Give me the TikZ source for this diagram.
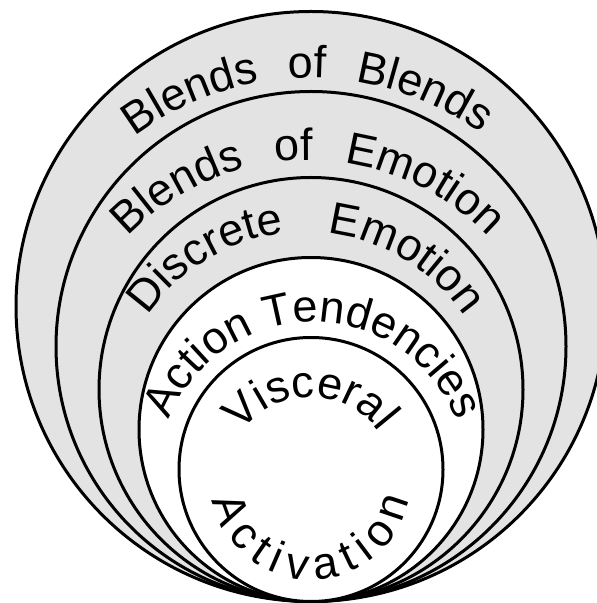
\documentclass[tikz,border=0pt]{standalone}
\usepackage{fontspec}
\setmainfont{Liberation Sans}
\usetikzlibrary{calc,decorations.text}
\definecolor{RingGray}{HTML}{E3E3E3}
\definecolor{RingInk}{HTML}{000000}
\newcommand{\ringfont}{\fontsize{45}{54}\selectfont}
\tikzset{
  ring/.style={draw=RingInk, line width=3pt, fill=RingGray},
  core/.style={draw=RingInk, line width=3pt, fill=white},
  ringtext/.style={decorate, decoration={text along path, text={|\ringfont|#1},
    text align={fit to path stretching spaces}}},
  coretext/.style={decorate, decoration={text along path, text={|\ringfont|#1},
    text align={fit to path}}},
  centertext/.style={decorate, decoration={text along path, text={|\ringfont|#1},
    text align={center}}},
}
\begin{document}
\begin{tikzpicture}[x=1pt,y=1pt]
  \useasboundingbox (0,0) rectangle (597,603);
  % Common touching point at the bottom
  \coordinate (tip) at (311,1.5);
  % Rings, outside in
  \draw[ring] ($(tip)+(0,295)$) circle[radius=295];
  \draw[ring] ($(tip)+(0,255)$) circle[radius=255];
  \draw[ring] ($(tip)+(0,212)$) circle[radius=212];
  \draw[core] ($(tip)+(0,172)$) circle[radius=172];
  \draw[core] ($(tip)+(0,132)$) circle[radius=132];
  % Labels along the rings
  \path[ringtext={Blends of Blends}] (310,234) ++(127:291) arc[start angle=127, end angle=54, radius=291];
  \path[ringtext={Blends of Emotion}] (308,194) ++(136.3:249) arc[start angle=136.3, end angle=43.7, radius=249];
  \path[ringtext={Discrete Emotion}] (306,180) ++(146:191) arc[start angle=146, end angle=34, radius=191];
  \path[ringtext={Action Tendencies}] (313,127) ++(158.7:154) arc[start angle=158.7, end angle=21.3, radius=154];
  \path[centertext={Visceral}] (310,121) ++(170:85) arc[start angle=170, end angle=10, radius=85];
  \path[coretext={Activation}] (311,123) ++(191.5:100) arc[start angle=191.5, end angle=348.5, radius=100];
\end{tikzpicture}
\end{document}
